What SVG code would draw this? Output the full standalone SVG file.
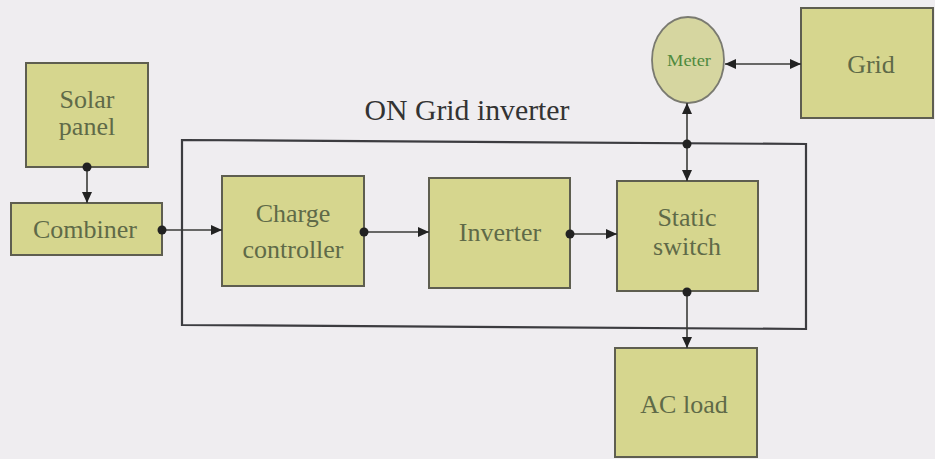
<svg xmlns="http://www.w3.org/2000/svg" width="935" height="459" viewBox="0 0 935 459">
<style>
.box{fill:#d6d68e;stroke:#5e5e50;stroke-width:2}
.t{font-family:"Liberation Serif","Times New Roman",serif;font-size:26px;fill:#5f6a48;text-anchor:middle}
.ln{stroke:#3a3a38;stroke-width:1.6;fill:none}
.dot{fill:#222}
</style>
<defs>
<marker id="ah" markerUnits="userSpaceOnUse" markerWidth="12" markerHeight="10" refX="11" refY="5" orient="auto-start-reverse">
<path d="M0,0 L11,5 L0,10 z" fill="#222"/>
</marker>
</defs>
<rect width="935" height="459" fill="#efedf0"/>
<g id="frame">
<path d="M182,140 L806,144 L806,329 L182,325 Z" fill="none" stroke="#3c3c40" stroke-width="2.2"/>
<text x="467" y="120" font-family="'Liberation Serif','Times New Roman',serif" font-size="30" fill="#333" text-anchor="middle" textLength="205" lengthAdjust="spacingAndGlyphs">ON Grid inverter</text>
</g>
<g id="solar">
<rect class="box" x="26" y="63" width="122" height="104"/>
<text class="t" x="87" y="108">Solar</text>
<text class="t" x="87" y="135">panel</text>
</g>
<g id="combiner">
<rect class="box" x="11" y="203" width="151" height="52"/>
<text class="t" x="85" y="238">Combiner</text>
</g>
<g id="charge">
<rect class="box" x="222" y="176" width="142" height="110"/>
<text class="t" x="293" y="222">Charge</text>
<text class="t" x="293" y="258">controller</text>
</g>
<g id="inverter">
<rect class="box" x="429" y="178" width="141" height="110"/>
<text class="t" x="500" y="241">Inverter</text>
</g>
<g id="static">
<rect class="box" x="617" y="181" width="141" height="110"/>
<text class="t" x="687" y="226">Static</text>
<text class="t" x="687" y="255">switch</text>
</g>
<g id="acload">
<rect class="box" x="615" y="348" width="142" height="109"/>
<text class="t" x="684" y="413">AC load</text>
</g>
<g id="meter">
<ellipse cx="688" cy="60" rx="36" ry="43" fill="#d6d6a0" stroke="#7a7a70" stroke-width="1.8"/>
<text x="689" y="66" font-family="'Liberation Serif','Times New Roman',serif" font-size="17" fill="#4f8a3e" text-anchor="middle" textLength="44" lengthAdjust="spacingAndGlyphs">Meter</text>
</g>
<g id="grid">
<rect class="box" x="801" y="8" width="132" height="110"/>
<text class="t" x="871" y="73">Grid</text>
</g>
<g id="connectors">
<line class="ln" x1="87" y1="167" x2="87" y2="203" marker-end="url(#ah)"/>
<circle class="dot" cx="87" cy="167" r="4.5"/>
<line class="ln" x1="162" y1="230" x2="222" y2="230" marker-end="url(#ah)"/>
<circle class="dot" cx="162" cy="230" r="4.5"/>
<line class="ln" x1="364" y1="232" x2="429" y2="232" marker-end="url(#ah)"/>
<circle class="dot" cx="364" cy="232" r="4.5"/>
<line class="ln" x1="570" y1="234" x2="617" y2="234" marker-end="url(#ah)"/>
<circle class="dot" cx="570" cy="234" r="4.5"/>
<line class="ln" x1="687" y1="144" x2="687" y2="103" marker-end="url(#ah)"/>
<line class="ln" x1="687" y1="144" x2="687" y2="181" marker-end="url(#ah)"/>
<circle class="dot" cx="687" cy="144" r="4.5"/>
<line class="ln" x1="687" y1="292" x2="687" y2="348" marker-end="url(#ah)"/>
<circle class="dot" cx="687" cy="292" r="4.5"/>
<line class="ln" x1="725" y1="64" x2="801" y2="64" marker-start="url(#ah)" marker-end="url(#ah)"/>
</g>
</svg>
